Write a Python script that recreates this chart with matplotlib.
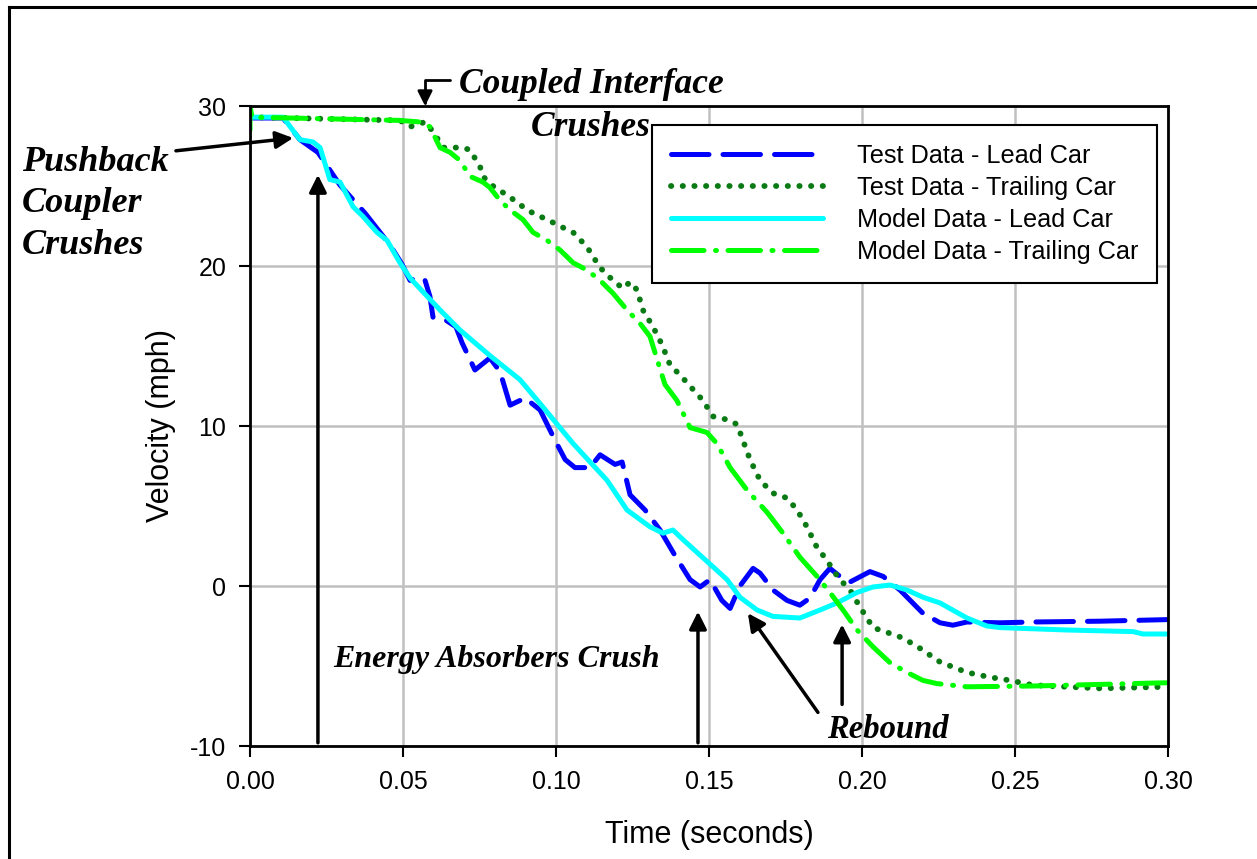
import matplotlib.pyplot as plt
from matplotlib.lines import Line2D

# ---------------------------------------------------------------
# Dados (tempo em s, velocidade em mph)
# ---------------------------------------------------------------
T_TESTE_LIDER = [0.0, 0.0108, 0.0163, 0.0222, 0.0294, 0.0376, 0.0458, 0.0497, 0.0523, 0.0556,
                 0.0572, 0.0588, 0.0598, 0.0641, 0.0673, 0.0693, 0.0735, 0.0784, 0.0817, 0.085,
                 0.0899, 0.0948, 0.0997, 0.103, 0.1062, 0.1111, 0.1144, 0.1193, 0.1216, 0.1242,
                 0.1291, 0.134, 0.1389, 0.1438, 0.1471, 0.1503, 0.1542, 0.1569, 0.1601, 0.1644,
                 0.1667, 0.1709, 0.1755, 0.1797, 0.183, 0.1863, 0.1895, 0.1928, 0.1961, 0.2026,
                 0.2069, 0.2124, 0.2199, 0.2255, 0.2297, 0.2343, 0.2451, 0.2559, 0.2778, 0.30]
V_TESTE_LIDER = [29.25, 29.25, 27.9, 27.1, 25.06, 23.3, 21.3, 20.1, 19.1, 19.3,
                 19.1, 18.1, 16.8, 16.6, 16.2, 15.2, 13.5, 14.25, 13.4, 11.3,
                 11.75, 11.0, 9.1, 7.9, 7.4, 7.4, 8.2, 7.6, 7.75, 5.7,
                 4.75, 3.5, 1.9, 0.4, -0.06, 0.4, -0.9, -1.4, 0.0, 1.1,
                 0.8, -0.25, -0.9, -1.2, -0.75, 0.4, 1.1, 0.6, 0.25, 0.9,
                 0.6, -0.25, -1.7, -2.3, -2.45, -2.25, -2.3, -2.25, -2.2, -2.1]

T_TESTE_REBOQUE = [0.0, 0.049, 0.0523, 0.0572, 0.0598, 0.0631, 0.067, 0.0696, 0.0719, 0.0752,
                   0.0761, 0.0794, 0.085, 0.0892, 0.0925, 0.0971, 0.1023, 0.1056, 0.1101, 0.1144,
                   0.1186, 0.1219, 0.1242, 0.1265, 0.1284, 0.1317, 0.1346, 0.1373, 0.1405, 0.148,
                   0.1513, 0.1559, 0.1592, 0.1611, 0.1634, 0.1667, 0.1709, 0.1755, 0.1788, 0.182,
                   0.1853, 0.1886, 0.1905, 0.1928, 0.1961, 0.1993, 0.2036, 0.2082, 0.2134, 0.219,
                   0.2255, 0.2343, 0.2418, 0.2484, 0.2559, 0.267, 0.2778, 0.30]
V_TESTE_REBOQUE = [29.3, 29.1, 28.7, 29.0, 28.4, 27.4, 27.4, 27.4, 27.25, 26.2,
                   25.6, 25.0, 24.3, 23.7, 23.3, 22.9, 22.4, 22.1, 21.2, 19.9,
                   19.1, 18.6, 19.0, 18.5, 17.25, 16.2, 15.1, 13.8, 13.2, 11.6,
                   10.6, 10.4, 10.1, 9.1, 7.9, 6.6, 5.8, 5.5, 4.75, 3.7,
                   2.4, 1.6, 1.0, 0.4, -0.25, -1.3, -2.6, -2.9, -3.25, -3.9,
                   -4.75, -5.4, -5.7, -5.9, -6.2, -6.3, -6.4, -6.3]

T_MODELO_LIDER = [0.0, 0.0108, 0.0163, 0.0206, 0.0229, 0.0261, 0.0294, 0.0337, 0.0369, 0.0415,
                  0.0448, 0.049, 0.0523, 0.0621, 0.0686, 0.0784, 0.0882, 0.0948, 0.1056, 0.1167,
                  0.1232, 0.1307, 0.135, 0.1382, 0.1415, 0.1461, 0.1513, 0.1559, 0.1601, 0.1657,
                  0.1709, 0.1797, 0.1863, 0.1918, 0.1984, 0.2036, 0.2092, 0.2147, 0.2199, 0.2255,
                  0.2343, 0.2408, 0.2451, 0.267, 0.2886, 0.2918, 0.30]
V_MODELO_LIDER = [29.3, 29.3, 27.9, 27.75, 27.4, 25.4, 25.25, 23.7, 23.1, 22.1,
                  21.6, 20.2, 19.25, 17.25, 16.0, 14.4, 12.9, 11.4, 8.9, 6.6,
                  4.75, 3.7, 3.3, 3.5, 2.9, 2.1, 1.2, 0.4, -0.7, -1.5,
                  -1.9, -2.0, -1.5, -1.06, -0.4, -0.06, 0.06, -0.25, -0.7, -1.06,
                  -2.0, -2.5, -2.6, -2.75, -2.85, -3.0, -3.0]

T_MODELO_REBOQUE = [0.0, 0.0, 0.0007, 0.049, 0.0556, 0.0588, 0.0621, 0.0654, 0.0686, 0.0719,
                    0.0761, 0.0784, 0.0817, 0.085, 0.0892, 0.0925, 0.0971, 0.1013, 0.1056, 0.1101,
                    0.1144, 0.1186, 0.1232, 0.1275, 0.1307, 0.1356, 0.1395, 0.1438, 0.1493, 0.1526,
                    0.1569, 0.1624, 0.169, 0.1742, 0.1797, 0.1853, 0.1895, 0.1938, 0.1984, 0.2036,
                    0.2092, 0.2147, 0.2199, 0.2245, 0.2343, 0.2559, 0.2778, 0.2964, 0.30]
V_MODELO_REBOQUE = [28.5, 30.0, 29.3, 29.1, 29.0, 28.7, 27.4, 27.1, 26.6, 25.6,
                    25.25, 24.9, 24.1, 23.5, 22.9, 22.1, 21.6, 21.0, 20.2, 19.75,
                    19.1, 18.3, 17.25, 16.4, 15.6, 12.6, 11.6, 9.9, 9.6, 8.9,
                    7.4, 6.0, 4.6, 3.3, 1.8, 0.6, -0.4, -1.5, -2.75, -3.8,
                    -4.8, -5.4, -5.9, -6.1, -6.3, -6.25, -6.15, -6.06, -6.05]

ROTULOS = ['Test Data - Lead Car', 'Test Data - Trailing Car',
           'Model Data - Lead Car', 'Model Data - Trailing Car']
TICKS_X = [0.0, 0.05, 0.10, 0.15, 0.20, 0.25, 0.30]
TICKS_Y = [-10, 0, 10, 20, 30]

SERIF = 'Liberation Serif'
SANS = 'Liberation Sans'

# ---------------------------------------------------------------
# Figura
# ---------------------------------------------------------------
fig = plt.figure(figsize=(12.57, 8.59), dpi=100)
ax = fig.add_axes([250 / 1257, 1 - 746 / 859, 918 / 1257, 640 / 859])

# moldura externa (apenas esquerda e topo visíveis)
fig.add_artist(Line2D([9 / 1257, 9 / 1257], [0, 1 - 7 / 859], color='black', lw=2.2,
                      transform=fig.transFigure))
fig.add_artist(Line2D([9 / 1257, 1], [1 - 7 / 859, 1 - 7 / 859], color='black', lw=2.2,
                      transform=fig.transFigure))

l1, = ax.plot(T_TESTE_LIDER, V_TESTE_LIDER, color='#0000ff', lw=3.6,
              dashes=(7.5, 2.8), dash_capstyle='round', label=ROTULOS[0])
l2, = ax.plot(T_TESTE_REBOQUE, V_TESTE_REBOQUE, color='#0a7a14', lw=4.2,
              dashes=(0.05, 1.95), dash_capstyle='round', label=ROTULOS[1])
l3, = ax.plot(T_MODELO_LIDER, V_MODELO_LIDER, color='#00ffff', lw=3.6,
              solid_capstyle='round', label=ROTULOS[2])
l4, = ax.plot(T_MODELO_REBOQUE, V_MODELO_REBOQUE, color='#00ff00', lw=3.6,
              dashes=(6.5, 2.3, 0.2, 2.3), dash_capstyle='round', label=ROTULOS[3])

ax.set_xlim(0, 0.30)
ax.set_ylim(-10, 30)
ax.set_xticks(TICKS_X)
ax.set_xticklabels([f'{v:.2f}' for v in TICKS_X], family=SANS, fontsize=18)
ax.set_yticks(TICKS_Y)
ax.set_yticklabels([str(v) for v in TICKS_Y], family=SANS, fontsize=18)
ax.tick_params(direction='out', length=8, width=1.5, color='black', pad=9)
ax.grid(True, color='#c0c0c0', lw=1.8)
ax.set_axisbelow(True)
for s in ax.spines.values():
    s.set_linewidth(2)
    s.set_color('black')

ax.set_xlabel('Time (seconds)', family=SANS, fontsize=22, labelpad=19)
ax.set_ylabel('Velocity (mph)', family=SANS, fontsize=22, labelpad=10)

leg = ax.legend(loc='upper left', bbox_to_anchor=(0.438, 0.971), prop={'family': SANS, 'size': 18.2},
                frameon=True, fancybox=False, framealpha=1, edgecolor='black',
                handlelength=6.0, handletextpad=1.35, labelspacing=0.32, borderaxespad=0,
                borderpad=0.75)
leg.get_frame().set_linewidth(1.5)

# ---------------------------------------------------------------
# Anotações
# ---------------------------------------------------------------
seta = dict(arrowstyle='-|>', color='black', lw=2.5, mutation_scale=26, shrinkA=0, shrinkB=0)
fonte = dict(family=SERIF, weight='bold', style='italic', color='black')

ax.annotate('', xy=(0.0141, 28.0), xytext=(-0.0242, 27.2), arrowprops=seta, annotation_clip=False)
fig.text(22 / 1257, 1 - 204 / 859, 'Pushback\nCoupler\nCrushes', ha='left', va='center',
         fontsize=26, linespacing=1.35, **fonte)

ax.annotate('', xy=(0.0222, 25.7), xytext=(0.0222, -9.8), arrowprops=seta)

ax.annotate('', xy=(0.0572, 30.0), xytext=(0.0654, 31.6), annotation_clip=False,
            arrowprops=dict(arrowstyle='-|>', color='black', lw=2, mutation_scale=22,
                            shrinkA=0, shrinkB=0,
                            connectionstyle='angle,angleA=0,angleB=90,rad=0'))
ax.text(0.1114, 29.97, 'Coupled Interface\nCrushes', ha='center', va='center',
        fontsize=25.5, linespacing=1.4, **fonte)

ax.text(0.0271, -4.6, 'Energy Absorbers Crush', ha='left', va='center', fontsize=23, **fonte)
ax.annotate('', xy=(0.1464, -1.6), xytext=(0.1464, -9.8), arrowprops=seta)

ax.annotate('', xy=(0.1627, -1.7), xytext=(0.1856, -7.9), arrowprops=seta)
ax.annotate('', xy=(0.1935, -2.4), xytext=(0.1935, -7.4), arrowprops=seta)
ax.text(0.2085, -9.0, 'Rebound', ha='center', va='center', fontsize=23.5, **fonte)

fig.savefig('out.png', dpi=100)
